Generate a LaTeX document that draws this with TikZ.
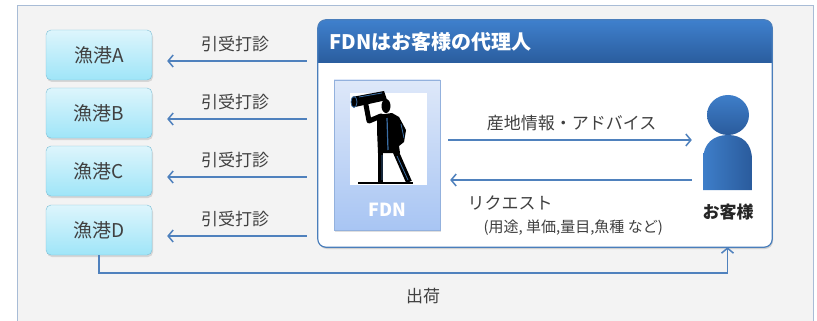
\documentclass[tikz,border=0pt]{standalone}
\usepackage{fontspec}
\setmainfont{Noto Sans CJK JP}
\usetikzlibrary{arrows.meta,shadows}

\definecolor{txt}{HTML}{404040}
\definecolor{back}{HTML}{F3F3F3}
\definecolor{frame}{HTML}{A8BCD6}
\definecolor{porttop}{HTML}{DDF5FC}
\definecolor{portbot}{HTML}{9FE5F8}
\definecolor{portline}{HTML}{7DBFD6}
\definecolor{arrline}{HTML}{4F81BD}
\definecolor{panelline}{HTML}{4A7EBB}
\definecolor{headtop}{HTML}{3F80CD}
\definecolor{headbot}{HTML}{2A5D9E}
\definecolor{fdntop}{HTML}{DEE8F9}
\definecolor{fdnbot}{HTML}{A8C5F3}
\definecolor{fdnline}{HTML}{93B1DD}
\definecolor{figblue}{HTML}{3A6EA5}
\definecolor{mantop}{HTML}{3E7EC9}
\definecolor{manbot}{HTML}{2A5B9C}

\begin{document}
\begin{tikzpicture}[x=1pt,y=-1pt,
  port/.style={draw=portline,rounded corners=5pt,top color=porttop,bottom color=portbot,
    minimum width=106pt,minimum height=50pt,text=txt,font=\fontsize{19}{22}\selectfont,
    drop shadow={opacity=0.25,shadow xshift=1pt,shadow yshift=-2pt}},
  arr/.style={draw=arrline,line width=1.5pt,-{Straight Barb[length=5pt,width=12pt]}},
  lbl/.style={text=txt,font=\fontsize{17}{20}\selectfont}]

\useasboundingbox (0,0) rectangle (817,321);
\fill[back] (17,5) rectangle (813,321);
\draw[frame] (17,321) -- (17,5) -- (813,5) -- (813,321);

\foreach \n/\y in {A/55,B/113,C/171,D/230}{
  \node[port] (port\n) at (99,\y) {漁港\n};
}

% agent panel with its blue header
\node[fill=white,rounded corners=8pt,minimum width=454pt,minimum height=227pt,
  drop shadow={opacity=0.3,shadow xshift=1pt,shadow yshift=-2pt}] (agent) at (545,133.5) {};
\begin{scope}
\clip[rounded corners=8pt] (agent.north west) rectangle (agent.south east);
\shade[top color=headtop,bottom color=headbot] (agent.north west) rectangle ([yshift=-43pt]agent.north east);
\end{scope}
\draw[panelline,line width=1.2pt,rounded corners=8pt] (agent.north west) rectangle (agent.south east);
\node[anchor=west,text=white,font=\fontsize{20}{24}\selectfont\bfseries] (title) at (326,42) {FDNはお客様の代理人};

\foreach \n in {A,B,C,D}{
  \path ([yshift=-6pt]port\n.east) coordinate (e\n);
  \draw[arr,shorten <=11pt,shorten >=15pt] (agent.west |- e\n) -- node[lbl,above=5pt] (ask\n) {引受打診} (e\n);
}

% FDN card
\node[draw=fdnline,top color=fdntop,bottom color=fdnbot,minimum width=106pt,minimum height=150pt,
  drop shadow={opacity=0.25,shadow xshift=1pt,shadow yshift=-2pt}] (fdn) at (387,155) {};
\fill[white] (350,93) rectangle (427,185);
% man with binoculars
\fill[black] (352,97) -- (384,91) -- (387,100) -- (355,107) -- cycle;
\filldraw[fill=black,draw=figblue,line width=0.8pt] (354,102) ellipse (3 and 5.5);
\draw[figblue,line width=0.8pt] (359,97) -- (382,93);
\fill[black] (386,106) ellipse (4.5 and 7);
\draw[line width=5pt,line cap=round,line join=round] (366,105) -- (369,121) -- (381,116);
\fill[black] (377,115) -- (392,113) -- (399,117) -- (406,130) -- (404,142) -- (399,146)
  -- (400,153) -- (378,153) -- (377,130) -- cycle;
\draw[figblue,line width=1.2pt] (387,118) -- (388,150);
\draw[figblue,line width=0.8pt] (401,124) -- (404,138);
\draw[line width=5pt] (380.5,150) -- (380.5,182);
\draw[line width=6pt] (395,150) -- (409,182);
\draw[figblue,line width=0.8pt] (382,155) -- (382,180) (397,156) -- (408,180);
\draw[line width=1.8pt] (358,183) -- (413,183);
\node[text=white,font=\fontsize{18}{22}\selectfont\bfseries] (fdnname) at (387,210) {FDN};

% customer icon
\shade[left color=mantop,right color=manbot] (703,190) -- (703,160)
  .. controls (703,143) and (714,135) .. (728,135)
  .. controls (742,135) and (752,143) .. (752,160) -- (752,190) -- cycle;
\shade[top color=mantop,bottom color=manbot] (728,115) ellipse (21 and 20);
\node[minimum width=49pt,minimum height=95pt,inner sep=0pt] (cust) at (727.5,142.5) {};
\node[text=black!85,font=\fontsize{17}{20}\selectfont\bfseries] (custname) at (728,212) {お客様};

\path ([yshift=15pt]fdn.east) coordinate (inA) ([yshift=-25pt]fdn.east) coordinate (inB);
\draw[arr,shorten <=8pt,shorten >=11pt] (inA) -- node[lbl,above=5pt] (info) {産地情報・アドバイス} (inA -| cust.west);
\draw[arr,shorten <=11pt,shorten >=10pt] (inB -| cust.west) -- (inB);
\node[lbl,anchor=west] (req) at (464,203) {リクエスト};
\node[text=txt,anchor=west,font=\fontsize{15}{18}\selectfont] (reqnote) at (480,228) {(用途, 単価,量目,魚種 など)};

\draw[arr] (portD.south) -- ++(0,18) -| (cust.center |- agent.south);
\node[lbl] (ship) at (423,296) {出荷};
\end{tikzpicture}
\end{document}
